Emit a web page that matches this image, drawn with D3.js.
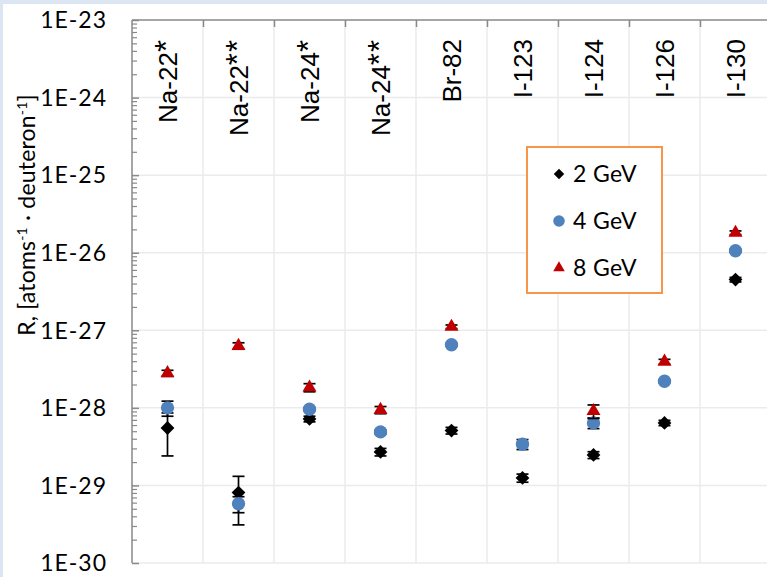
<!DOCTYPE html>
<html>
<head>
<meta charset="utf-8">
<script src="https://cdn.jsdelivr.net/npm/d3@7/dist/d3.min.js"></script>
<style>
  html, body { margin: 0; padding: 0; background: #ffffff; }
  svg { display: block; }
</style>
</head>
<body>
<svg id="chart" width="767" height="577"></svg>
<script>
// Nuclides (category axis)
const categories = ["Na-22*", "Na-22**", "Na-24*", "Na-24**", "Br-82", "I-123", "I-124", "I-126", "I-130"];

// Yields R per deuteron energy, with absolute uncertainties
const series = ["2 GeV", "4 GeV", "8 GeV"];
const r2GeV = [5.5e-29, 8.1e-30, 7.2e-29, 2.7e-29, 5.1e-29, 1.25e-29, 2.47e-29, 6.4e-29, 4.5e-27];
const err2GeV = [3.1e-29, 5.0e-30, 0.6e-29, 0.3e-29, 0.5e-29, 0.15e-29, 0.25e-29, 0.5e-29, 0.3e-27];
const r4GeV = [1.0e-28, 5.8e-30, 9.6e-29, 4.9e-29, 6.5e-28, 3.4e-29, 6.4e-29, 2.2e-28, 1.06e-26];
const err4GeV = [0.22e-28, 1.35e-30, 0.05e-28, 0.03e-28, 0.3e-28, 0.5e-29, 0.1e-28, 0.1e-28, 0.05e-26];
const r8GeV = [2.8e-28, 6.3e-28, 1.83e-28, 9.4e-29, 1.11e-27, null, 9.1e-29, 3.94e-28, 1.81e-26];
const err8GeV = [0.25e-28, 0.6e-28, 0.22e-28, 0.1e-28, 0.06e-27, null, 0.18e-28, 0.28e-28, 0.1e-26];

// Y axis decades and their labels
const yDecades = [1e-30, 1e-29, 1e-28, 1e-27, 1e-26, 1e-25, 1e-24, 1e-23];
const yTickLabels = ["1E-30", "1E-29", "1E-28", "1E-27", "1E-26", "1E-25", "1E-24", "1E-23"];

const svg = d3.select("#chart");
const W = 767, H = 577;
const plot = { left: 132, right: 771, top: 20, bottom: 563 };

// page frame
svg.append("rect").attr("width", W).attr("height", H).attr("fill", "#dce6f2");
svg.append("rect").attr("x", 3).attr("y", 4).attr("width", W).attr("height", H).attr("fill", "#ffffff");

const x = d3.scaleBand().domain(categories).range([plot.left, plot.right]).padding(0);
const y = d3.scaleLog().domain([1e-30, 1e-23]).range([plot.bottom, plot.top]);

// gridlines
const grid = svg.append("g");
grid.selectAll("line.h").data(yDecades.slice(0, -1)).join("line")
  .attr("x1", plot.left).attr("x2", plot.right)
  .attr("y1", d => y(d)).attr("y2", d => y(d))
  .attr("stroke", "#ebebeb").attr("stroke-width", 1.5);
const bounds = categories.slice(1).map(c => x(c)).concat([x(categories[categories.length - 1]) + x.bandwidth()]);
grid.selectAll("line.v").data(bounds).join("line")
  .attr("x1", d => d).attr("x2", d => d)
  .attr("y1", plot.top).attr("y2", plot.bottom)
  .attr("stroke", "#ebebeb").attr("stroke-width", 1.5);

// category axis along the top edge, ticks at the band boundaries
const xb = d3.scaleLinear().domain([plot.left, plot.right]).range([plot.left, plot.right]);
const topAxis = svg.append("g").attr("transform", `translate(0,${plot.top})`)
  .call(d3.axisBottom(xb).tickValues(bounds).tickSize(7).tickFormat(""));
topAxis.select(".domain").attr("stroke", "#898989").attr("stroke-width", 1.5).attr("d", `M${plot.left},0H${plot.right}`);
topAxis.selectAll(".tick line").attr("stroke", "#898989").attr("stroke-width", 1.5);

// value axis with log minor ticks
const minorVals = [];
yDecades.slice(0, -1).forEach(d => { for (let k = 2; k <= 9; k++) minorVals.push(d * k); });
const leftMinor = svg.append("g").attr("transform", `translate(${plot.left},0)`)
  .call(d3.axisRight(y).tickValues(minorVals).tickSize(5).tickFormat(""));
leftMinor.select(".domain").remove();
leftMinor.selectAll(".tick line").attr("stroke", "#898989").attr("stroke-width", 1.2);
const leftMajor = svg.append("g").attr("transform", `translate(${plot.left},0)`)
  .call(d3.axisRight(y).tickValues(yDecades).tickSize(7).tickFormat(""));
leftMajor.select(".domain").attr("stroke", "#898989").attr("stroke-width", 1.5)
  .attr("d", `M0,${plot.top}V${plot.bottom}`);
leftMajor.selectAll(".tick line").attr("stroke", "#898989").attr("stroke-width", 1.5);

// y tick labels
svg.append("g").selectAll("text").data(yDecades).join("text")
  .attr("x", 107).attr("y", d => y(d)).attr("dy", "0.36em")
  .attr("text-anchor", "end")
  .attr("font-family", "Lato, 'Open Sans', sans-serif").attr("font-size", 23)
  .attr("letter-spacing", 1).attr("fill", "#000")
  .text((d, i) => yTickLabels[i]);

// category labels, rotated; asterisks set a little larger
const catText = svg.append("g").selectAll("text").data(categories).join("text")
  .attr("transform", d => `translate(${x(d) + x.bandwidth() / 2},39) rotate(-90)`)
  .attr("dy", "0.36em").attr("text-anchor", "end")
  .attr("font-family", "'Liberation Sans', Arial, sans-serif").attr("font-size", 26)
  .attr("fill", "#000");
catText.append("tspan").text(d => d.replace(/\*+$/, ""));
catText.append("tspan").attr("font-size", 31).attr("letter-spacing", 1)
  .text(d => (d.match(/\*+$/) || [""])[0]);

// axis title
const title = svg.append("text")
  .attr("transform", "translate(27,215) rotate(-90)")
  .attr("dy", "0.35em").attr("text-anchor", "middle")
  .attr("font-family", "Lato, 'Open Sans', sans-serif").attr("font-size", 23)
  .attr("letter-spacing", 0.2).attr("fill", "#000");
title.append("tspan").text("R,  [atoms");
title.append("tspan").attr("font-size", 14).attr("dy", -8).text("-1");
title.append("tspan").attr("dy", 8).text(" · deuteron");
title.append("tspan").attr("font-size", 14).attr("dy", -8).text("-1");
title.append("tspan").attr("dy", 8).text("]");

// marker shapes
const diamondPath = d3.symbol().type(d3.symbolSquare).size(95)();
const circlePath = d3.symbol().type(d3.symbolCircle).size(140)();
const trianglePath = d3.symbol().type(d3.symbolTriangle).size(85)();
const styles = [
  { name: series[0], vals: r2GeV, errs: err2GeV, path: diamondPath, rot: 45, fill: "#000000" },
  { name: series[1], vals: r4GeV, errs: err4GeV, path: circlePath, rot: 0, fill: "#4f81bd" },
  { name: series[2], vals: r8GeV, errs: err8GeV, path: trianglePath, rot: 0, fill: "#c00000" }
];

const capW = 12;
styles.forEach(s => {
  const pts = categories.map((c, i) => ({ c, v: s.vals[i], e: s.errs[i] })).filter(p => p.v != null);
  const g = svg.append("g");
  // error bars
  const eb = g.selectAll("g.err").data(pts.filter(p => p.e > 0)).join("g")
    .attr("stroke", "#000").attr("stroke-width", 1.7);
  const cx = p => x(p.c) + x.bandwidth() / 2;
  eb.append("line").attr("x1", cx).attr("x2", cx)
    .attr("y1", p => y(p.v + p.e)).attr("y2", p => y(Math.max(p.v - p.e, 1e-31)));
  eb.append("line").attr("x1", p => cx(p) - capW / 2).attr("x2", p => cx(p) + capW / 2)
    .attr("y1", p => y(p.v + p.e)).attr("y2", p => y(p.v + p.e));
  eb.append("line").attr("x1", p => cx(p) - capW / 2).attr("x2", p => cx(p) + capW / 2)
    .attr("y1", p => y(p.v - p.e)).attr("y2", p => y(p.v - p.e));
  // markers
  g.selectAll("path.mk").data(pts).join("path")
    .attr("d", s.path)
    .attr("transform", p => `translate(${cx(p)},${y(p.v)}) rotate(${s.rot})`)
    .attr("fill", s.fill);
});

// legend
const lg = svg.append("g");
lg.append("rect").attr("x", 527).attr("y", 147).attr("width", 135).attr("height", 146)
  .attr("fill", "#ffffff").attr("stroke", "#f79646").attr("stroke-width", 2);
const legendRows = d3.scalePoint().domain(series).range([174, 268]);
const legendShapes = [
  d3.symbol().type(d3.symbolSquare).size(55)(),
  d3.symbol().type(d3.symbolCircle).size(105)(),
  d3.symbol().type(d3.symbolTriangle).size(58)()
];
styles.forEach((s, i) => {
  lg.append("path").attr("d", legendShapes[i])
    .attr("transform", `translate(559,${legendRows(s.name)}) rotate(${s.rot})`)
    .attr("fill", s.fill);
  lg.append("text").attr("x", 573).attr("y", legendRows(s.name)).attr("dy", "0.36em")
    .attr("font-family", "Lato, 'Open Sans', sans-serif").attr("font-size", 23)
    .attr("letter-spacing", 0.4).attr("fill", "#000")
    .text(s.name);
});
</script>
</body>
</html>
